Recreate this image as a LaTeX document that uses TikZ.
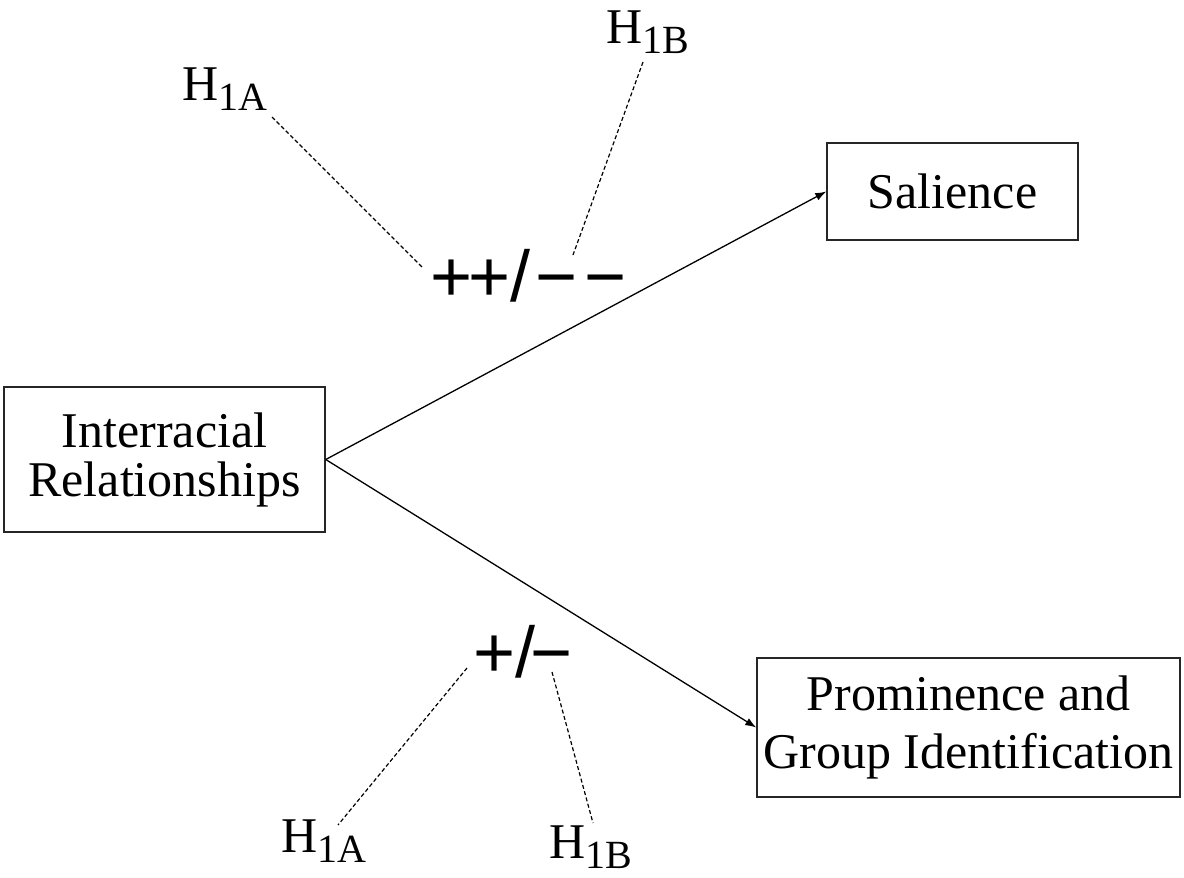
\documentclass[tikz,border=0pt]{standalone}
\usepackage{fontspec}
\setmainfont{Liberation Serif}
\newfontfamily\signfont{Liberation Sans}
\usetikzlibrary{arrows.meta}
\newcommand{\hsub}[1]{H\raisebox{-10pt}{\fontsize{40}{40}\selectfont #1}}
\begin{document}
\begin{tikzpicture}[x=1pt,y=-1pt,
  box/.style={draw=black!85,line width=1.5pt,inner sep=0pt,align=center,
    font=\fontsize{50}{49}\selectfont},
  conn/.style={line width=1.3pt,-{Latex[length=11pt,width=8pt]}},
  hlink/.style={line width=1.2pt,dash pattern=on 4pt off 2.5pt},
  hlabel/.style={anchor=base west,inner sep=0pt,font=\fontsize{50}{50}\selectfont},
  sign/.style={anchor=base west,inner sep=0pt,font=\signfont\fontsize{72}{72}\selectfont}]
\useasboundingbox (0,0) rectangle (1184,878);
\fill[white] (0,0) rectangle (1184,878);

\node[box,minimum width=321pt,minimum height=145pt] (ir) at (164.5,459.5)
  {Interracial\\Relationships};
\node[box,minimum width=251pt,minimum height=97pt] (sal) at (952.5,191.5)
  {Salience};
\node[box,minimum width=423pt,minimum height=139pt,
  font=\fontsize{50}{58}\selectfont] (pgi) at (968.5,727.5)
  {\raisebox{-4pt}{Prominence and}\\\raisebox{-4pt}{Group Identification}};

\draw[conn] (ir.east) -- (sal.west);
\draw[conn] (ir.east) -- (pgi.west);

\node[sign] (top) at (430,301) {+\kern-4pt+/\kern5pt−\kern7.5pt−};
\node[sign] (bot) at (473.5,677.5) {+/\kern-5pt−};

\node[hlabel] (ha1) at (182,100) {\hsub{1A}};
\node[hlabel] (hb1) at (606,43) {\hsub{1B}};
\node[hlabel] (ha2) at (281,852) {\hsub{1A}};
\node[hlabel] (hb2) at (549,858) {\hsub{1B}};

\coordinate (a1s) at (272,117);
\coordinate (a1e) at (422,267);
\coordinate (b1s) at (643,62);
\coordinate (b1e) at (573,255);
\coordinate (a2s) at (467,668);
\coordinate (a2e) at (338,825);
\coordinate (b2s) at (552,672);
\coordinate (b2e) at (593,823);

\draw[hlink] (a1s) -- (a1e);
\draw[hlink] (b1s) -- (b1e);
\draw[hlink] (a2s) -- (a2e);
\draw[hlink] (b2s) -- (b2e);
\end{tikzpicture}
\end{document}
